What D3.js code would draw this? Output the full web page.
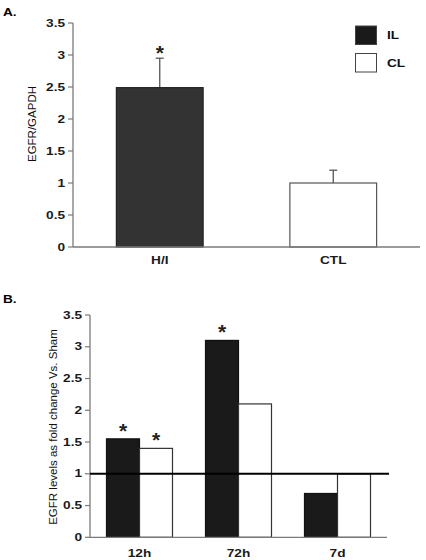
<!DOCTYPE html>
<html><head><meta charset="utf-8">
<script src="https://cdn.jsdelivr.net/npm/d3@7"></script>
<style>body{margin:0;background:#fff}svg{display:block}text{font-family:"Liberation Sans",Arial,sans-serif}</style>
</head><body>
<svg id="c" width="426" height="560"></svg>
<script>
// Panel A data
const aCategories = ["H/I", "CTL"];
const aValues = [2.49, 1.0];
const aErrors = [0.46, 0.2];
const aStars = [true, false];
const aTicks = [0, 0.5, 1, 1.5, 2, 2.5, 3, 3.5];
// Panel B data
const bCategories = ["12h", "72h", "7d"];
const bSeries = ["IL", "CL"];
const bIL = [1.55, 3.1, 0.69];
const bCL = [1.4, 2.1, 1.0];
const bStarsIL = [true, true, false];
const bStarsCL = [true, false, false];
const bTicks = [0, 0.5, 1, 1.5, 2, 2.5, 3, 3.5];
const refLine = 1;

const svg = d3.select("#c");
const axisColor = "#7a7a7a";
const SX = 1.3;

// wide bold text helper
function wtxt(g, x, y, str, anchor, size) {
  return g.append("text").attr("transform", `translate(${x},${y}) scale(${SX},1)`)
    .attr("text-anchor", anchor).attr("font-size", size || 10.5).attr("font-weight", "bold").attr("fill", "#1a1a1a").text(str);
}

function drawYAxis(g, y, x0, ticks) {
  g.append("line").attr("x1", x0).attr("x2", x0).attr("y1", y(3.5)).attr("y2", y(0)).attr("stroke", axisColor).attr("stroke-width", 1.3);
  ticks.forEach(t => {
    g.append("line").attr("x1", x0 - 5).attr("x2", x0).attr("y1", y(t)).attr("y2", y(t)).attr("stroke", axisColor).attr("stroke-width", 1.2);
    wtxt(g, x0 - 8, y(t) + 3.7, t, "end");
  });
}

// ---------- Panel A ----------
const ay = d3.scaleLinear().domain([0, 3.5]).range([247, 23]);
const ax = d3.scaleBand().domain(aCategories).range([73, 420]).paddingInner(0.5).paddingOuter(0.25);
const gA = svg.append("g");
wtxt(svg, 3, 15.5, "A.", "start", 10.5).attr("fill", "#000");
const aFill = ["#333333", "#ffffff"];
aCategories.forEach((c, i) => {
  const x = ax(c), w = ax.bandwidth();
  const cx = x + w / 2;
  gA.append("line").attr("x1", cx).attr("x2", cx).attr("y1", ay(aValues[i])).attr("y2", ay(aValues[i] + aErrors[i])).attr("stroke", "#555").attr("stroke-width", 1.3);
  gA.append("line").attr("x1", cx - 4).attr("x2", cx + 4).attr("y1", ay(aValues[i] + aErrors[i])).attr("y2", ay(aValues[i] + aErrors[i])).attr("stroke", "#555").attr("stroke-width", 1.3);
  gA.append("rect").attr("x", x).attr("y", ay(aValues[i])).attr("width", w).attr("height", ay(0) - ay(aValues[i]))
    .attr("fill", aFill[i]).attr("stroke", i === 0 ? "#222" : "#555").attr("stroke-width", 1.2);
  if (aStars[i]) gA.append("text").attr("x", cx).attr("y", ay(aValues[i] + aErrors[i]) + 2).attr("text-anchor", "middle")
    .attr("font-size", 21).attr("font-weight", "bold").attr("fill", "#222").text("*");
  wtxt(gA, cx, 263.5, c, "middle");
});
gA.append("line").attr("x1", 73).attr("x2", 420).attr("y1", ay(0)).attr("y2", ay(0)).attr("stroke", axisColor).attr("stroke-width", 1.3);
drawYAxis(gA, ay, 73, aTicks);
gA.append("text").attr("transform", `translate(36,124) rotate(-90)`).attr("text-anchor", "middle")
  .attr("font-size", 11.5).attr("fill", "#111").text("EGFR/GAPDH");
// legend
const legColors = ["#1a1a1a", "#ffffff"];
bSeries.forEach((s, i) => {
  gA.append("rect").attr("x", 355.5).attr("y", 26 + i * 27.5).attr("width", 21).attr("height", 18.5)
    .attr("fill", legColors[i]).attr("stroke", "#444").attr("stroke-width", 1);
  wtxt(gA, 387, 39 + i * 27.5, s, "start").attr("fill", "#111");
});

// ---------- Panel B ----------
const by = d3.scaleLinear().domain([0, 3.5]).range([537.3, 315]);
const bx = d3.scaleBand().domain(bCategories).range([90, 387]).paddingInner(1 / 3).paddingOuter(1 / 6);
const bs = d3.scaleBand().domain(bSeries).range([0, bx.bandwidth()]);
const gB = svg.append("g");
wtxt(svg, 3, 302.5, "B.", "start", 10.5).attr("fill", "#000");
const bData = bCategories.map((c, i) => ({ c, vals: [{ s: "IL", v: bIL[i], star: bStarsIL[i] }, { s: "CL", v: bCL[i], star: bStarsCL[i] }] }));
bData.forEach(d => {
  d.vals.forEach((e, j) => {
    const x = bx(d.c) + bs(e.s), w = bs.bandwidth();
    gB.append("rect").attr("x", x).attr("y", by(e.v)).attr("width", w).attr("height", by(0) - by(e.v))
      .attr("fill", legColors[j]).attr("stroke", j === 0 ? "#111" : "#333").attr("stroke-width", 1.2);
    if (e.star) gB.append("text").attr("x", x + w / 2).attr("y", by(e.v) - 1).attr("text-anchor", "middle")
      .attr("font-size", 21).attr("font-weight", "bold").attr("fill", "#222").text("*");
  });
  wtxt(gB, bx(d.c) + bx.bandwidth() / 2, 556.5, d.c, "middle");
});
gB.append("line").attr("x1", 90).attr("x2", 387).attr("y1", by(0)).attr("y2", by(0)).attr("stroke", axisColor).attr("stroke-width", 1.3);
drawYAxis(gB, by, 90, bTicks);
gB.append("line").attr("x1", 90).attr("x2", 389).attr("y1", by(refLine)).attr("y2", by(refLine)).attr("stroke", "#000").attr("stroke-width", 2);
gB.append("text").attr("transform", `translate(57,427) rotate(-90)`).attr("text-anchor", "middle")
  .attr("font-size", 11.5).attr("fill", "#111").text("EGFR levels as fold change Vs. Sham");
</script>
</body></html>
